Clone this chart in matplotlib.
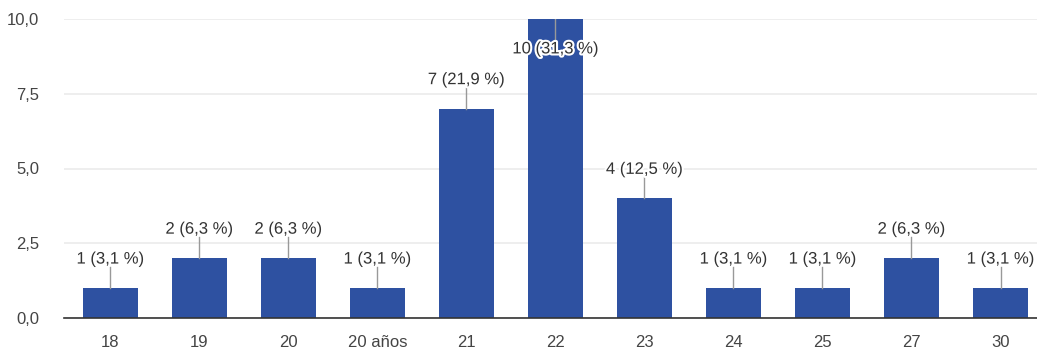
import matplotlib.pyplot as plt
import matplotlib.patheffects as pe

plt.rcParams['font.family'] = ['Liberation Sans', 'DejaVu Sans']

# Datos de la encuesta (edad)
categorias = ['18', '19', '20', '20 años', '21', '22', '23', '24', '25', '27', '30']
conteos = [1, 2, 2, 1, 7, 10, 4, 1, 1, 2, 1]
porcentajes = [3.1, 6.3, 6.3, 3.1, 21.9, 31.3, 12.5, 3.1, 3.1, 6.3, 3.1]
yticks = [0, 2.5, 5, 7.5, 10]

fig = plt.figure(figsize=(10.37, 3.51), dpi=100)
ax = fig.add_axes([64 / 1037, 1 - 318 / 351, (1037 - 64) / 1037, (318 - 19) / 351])

x = list(range(len(categorias)))
ax.bar(x, conteos, width=0.62, color='#2e51a1', zorder=3)

ax.set_xlim(-0.52, 10.41)
ax.set_ylim(0, 10)
ax.set_yticks(yticks)
ax.set_yticklabels([f'{t:.1f}'.replace('.', ',') for t in yticks])
ax.set_xticks(x)
ax.set_xticklabels(categorias)
ax.grid(axis='y', color='#ebebeb', linewidth=1.2, zorder=0)
for s in ['top', 'right', 'left']:
    ax.spines[s].set_visible(False)
ax.spines['bottom'].set_color('#333333')
ax.spines['bottom'].set_linewidth(1.2)
ax.spines['bottom'].set_zorder(4)
ax.tick_params(axis='both', length=0, labelsize=12, colors='#444444')
ax.tick_params(axis='y', pad=18)
ax.tick_params(axis='x', pad=12)

halo = [pe.withStroke(linewidth=3, foreground='white')]
for i, (v, p) in enumerate(zip(conteos, porcentajes)):
    txt = f'{v} ({p:.1f} %)'.replace('.', ',')
    if v >= 10:
        ax.plot([i, i], [v, v - 0.68], color='#999999', linewidth=1, zorder=4)
        ax.text(i, v - 0.75, txt, ha='center', va='top', fontsize=12,
                color='#333333', path_effects=halo, zorder=5)
    else:
        ax.plot([i, i], [v, v + 0.7], color='#999999', linewidth=1, zorder=4)
        ax.text(i, v + 0.72, txt, ha='center', va='bottom', fontsize=12,
                color='#333333', path_effects=halo, zorder=5)

fig.savefig('out.png', dpi=100)
